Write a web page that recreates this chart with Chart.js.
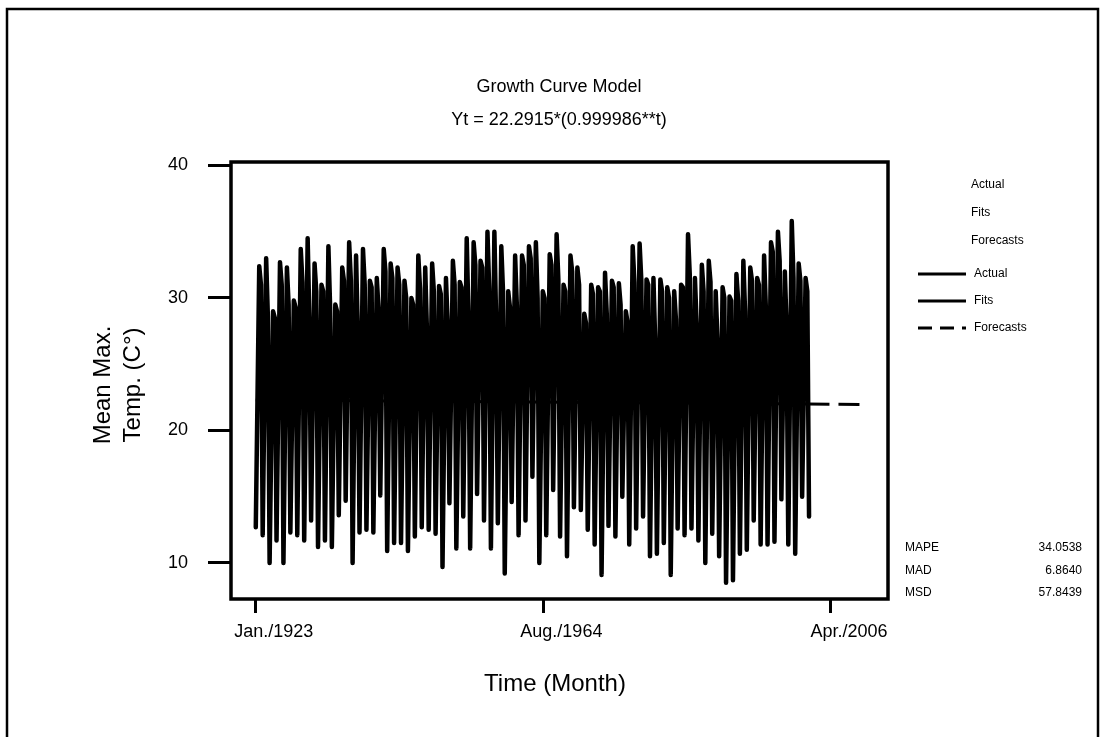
<!DOCTYPE html>
<html>
<head>
<meta charset="utf-8">
<script src="https://cdn.jsdelivr.net/npm/chart.js@4.4.0/dist/chart.umd.min.js"></script>
<style>
  html, body { margin: 0; padding: 0; background: #fff; }
  #wrap { width: 1101px; height: 737px; position: relative; }
</style>
</head>
<body>
<div id="wrap"><canvas id="chart" width="1101" height="737"></canvas></div>
<script>
// values, one of each per year (Jan 1923 .. 2002)
// winter lows (Jan), summer highs (Jul), autumn shoulders (Oct)
var lows = [12.7, 12.1, 10.0, 11.7, 10.0, 12.3, 12.1, 11.7, 13.2, 11.2,
            11.7, 11.2, 13.6, 14.7, 10.0, 12.3, 12.5, 12.3, 15.1, 10.9,
            11.5, 11.5, 10.9, 12.0, 12.7, 12.5, 12.2, 9.7, 14.5, 11.1,
            13.5, 11.1, 15.2, 13.2, 11.1, 13.0, 9.2, 14.6, 12.1, 13.2,
            16.5, 10.0, 12.1, 15.5, 12.0, 10.5, 14.2, 14.0, 12.5, 11.4,
            9.1, 12.8, 12.0, 15.0, 11.4, 12.6, 13.5, 10.5, 10.7, 11.5,
            9.1, 12.6, 12.1, 12.6, 11.7, 10.0, 12.2, 10.5, 8.5, 8.7,
            10.7, 11.0, 13.2, 11.4, 11.4, 11.6, 14.8, 11.4, 10.7, 15.0,
            13.5];
var highs = [32.4, 33.0, 29.0, 32.7, 32.3, 29.8, 33.7, 34.5, 32.6, 31.0,
             33.9, 29.5, 32.3, 34.2, 33.2, 33.7, 31.3, 31.5, 33.7, 32.6,
             32.3, 31.3, 30.0, 33.2, 32.3, 32.6, 30.9, 31.5, 32.8, 31.2,
             34.5, 34.2, 32.8, 35.0, 35.0, 33.9, 30.5, 33.2, 33.2, 33.9,
             34.2, 30.5, 33.3, 34.8, 31.0, 33.2, 32.3, 28.8, 31.0, 30.8,
             31.9, 31.3, 31.1, 29.0, 33.9, 34.1, 31.4, 31.5, 31.4, 30.8,
             30.5, 31.0, 34.8, 31.5, 32.5, 32.8, 30.5, 30.8, 30.1, 31.8,
             32.8, 32.3, 31.5, 33.2, 34.2, 35.0, 32.0, 35.8, 32.6, 31.5];
var autumns = [31.0, 28.6, 28.5, 31.0, 29.5, 29.3, 31.2, 28.4, 30.5, 30.5,
               29.3, 29.0, 31.3, 31.3, 27.6, 31.0, 30.8, 29.1, 32.0, 31.5,
               31.0, 30.0, 29.5, 30.7, 27.5, 30.5, 30.3, 28.0, 31.0, 30.8,
               28.7, 32.5, 32.3, 30.7, 28.4, 30.5, 29.3, 29.4, 32.5, 33.0,
               30.0, 30.0, 32.5, 31.4, 30.5, 32.0, 31.0, 28.1, 30.3, 30.5,
               28.8, 30.8, 29.5, 28.2, 31.2, 31.3, 31.0, 26.8, 30.5, 30.0,
               28.4, 30.8, 31.8, 28.0, 30.5, 31.2, 27.0, 30.0, 29.8, 29.8,
               29.0, 31.3, 31.0, 29.3, 33.5, 32.8, 27.9, 31.5, 31.3, 30.5];
var lowMonth = 1, highMonth = 7, autumnMonth = 10;

var fitIndex = [1, 960];
var fitValues = [22.29, 21.99];
var forecastIndex = [960, 1050];
var forecastValues = [21.99, 21.96];

var xTickIndex = [1, 500, 999];
var xTickLabels = ['Jan./1923', 'Aug./1964', 'Apr./2006'];
var yTickValues = [10, 20, 30, 40];

var titleLines = ['Growth Curve Model', 'Yt = 22.2915*(0.999986**t)'];
var xTitle = 'Time (Month)';
var yTitle = ['Mean Max.', 'Temp. (C°)'];
var legendNames = ['Actual', 'Fits', 'Forecasts'];
var statNames = ['MAPE', 'MAD', 'MSD'];
var statValues = ['34.0538', '6.8640', '57.8439'];

var actual = [];
for (var k = 0; k < highs.length; k++) {
  actual.push({x: 12 * k + lowMonth, y: lows[k]});
  actual.push({x: 12 * k + highMonth, y: highs[k]});
  actual.push({x: 12 * k + autumnMonth, y: autumns[k]});
}
actual.push({x: 12 * highs.length + lowMonth, y: lows[highs.length]});

var fits = fitIndex.map(function(v, i){ return {x: v, y: fitValues[i]}; });
var forecasts = forecastIndex.map(function(v, i){ return {x: v, y: forecastValues[i]}; });

var FONT = '"Liberation Sans", Arial, Helvetica, sans-serif';

var decor = {
  id: 'decor',
  afterDraw: function(chart) {
    var ctx = chart.ctx, a = chart.chartArea;
    ctx.save();
    ctx.strokeStyle = '#000';
    ctx.fillStyle = '#000';
    // plot frame
    ctx.lineWidth = 3.5;
    ctx.strokeRect(a.left, a.top, a.right - a.left, a.bottom - a.top);
    // outer frame
    ctx.lineWidth = 2.5;
    ctx.strokeRect(7, 9, 1091, 760);

    ctx.textAlign = 'center';
    ctx.textBaseline = 'middle';
    ctx.font = '18px ' + FONT;
    ctx.fillText(titleLines[0], 559, 87);
    ctx.fillText(titleLines[1], 559, 120);

    ctx.font = '24px ' + FONT;
    ctx.fillText(xTitle, 555, 684);
    ctx.save();
    ctx.translate(118, 385);
    ctx.rotate(-Math.PI / 2);
    ctx.fillText(yTitle[0], 0, -15);
    ctx.fillText(yTitle[1], 0, 15);
    ctx.restore();

    // legend (text block, then line samples)
    ctx.textAlign = 'left';
    ctx.font = '12px ' + FONT;
    var ys = [185, 213, 241];
    legendNames.forEach(function(n, i){ ctx.fillText(n, 971, ys[i]); });
    var ly = [274, 301, 328];
    legendNames.forEach(function(n, i){
      ctx.beginPath();
      ctx.lineWidth = 3;
      ctx.setLineDash(i == 2 ? [14, 8] : []);
      ctx.moveTo(918, ly[i]);
      ctx.lineTo(966, ly[i]);
      ctx.stroke();
      ctx.setLineDash([]);
      ctx.fillText(n, 974, ly[i]);
    });

    // accuracy measures
    var sy = [548, 571, 593];
    statNames.forEach(function(n, i){
      ctx.textAlign = 'left';
      ctx.fillText(n, 905, sy[i]);
      ctx.textAlign = 'right';
      ctx.fillText(statValues[i], 1082, sy[i]);
    });
    ctx.restore();
  }
};

new Chart(document.getElementById('chart'), {
  type: 'line',
  data: {
    datasets: [
      { label: 'Actual', data: actual, borderColor: '#000', borderWidth: 4.5,
        borderJoinStyle: 'round', borderCapStyle: 'round', pointRadius: 0, tension: 0 },
      { label: 'Fits', data: fits, borderColor: '#000', borderWidth: 3, pointRadius: 0 },
      { label: 'Forecasts', data: forecasts, borderColor: '#000', borderWidth: 3,
        borderDash: [21, 9], pointRadius: 0 }
    ]
  },
  options: {
    responsive: false,
    animation: false,
    events: [],
    layout: { padding: { left: 0, top: 162, right: 213, bottom: 0 } },
    plugins: { legend: { display: false }, title: { display: false }, tooltip: { enabled: false } },
    scales: {
      x: {
        type: 'linear', min: -42, max: 1098,
        afterBuildTicks: function(s){ s.ticks = xTickIndex.map(function(v){ return {value: v}; }); },
        afterFit: function(s){ s.height = 138; },
        ticks: {
          autoSkip: false, maxRotation: 0, padding: 8, labelOffset: 18, color: '#000',
          font: { size: 18, family: FONT },
          callback: function(v){ var i = xTickIndex.indexOf(v); return i < 0 ? '' : xTickLabels[i]; }
        },
        grid: { drawOnChartArea: false, tickLength: 14, lineWidth: 3, color: '#000' },
        border: { display: false }
      },
      y: {
        min: 7.28, max: 40.26,
        afterBuildTicks: function(s){ s.ticks = yTickValues.map(function(v){ return {value: v}; }); },
        afterFit: function(s){ s.width = 231; },
        ticks: { padding: 20, color: '#000', font: { size: 18, family: FONT } },
        grid: { drawOnChartArea: false, tickLength: 23, lineWidth: 3, color: '#000' },
        border: { display: false }
      }
    }
  },
  plugins: [decor]
});
</script>
</body>
</html>
